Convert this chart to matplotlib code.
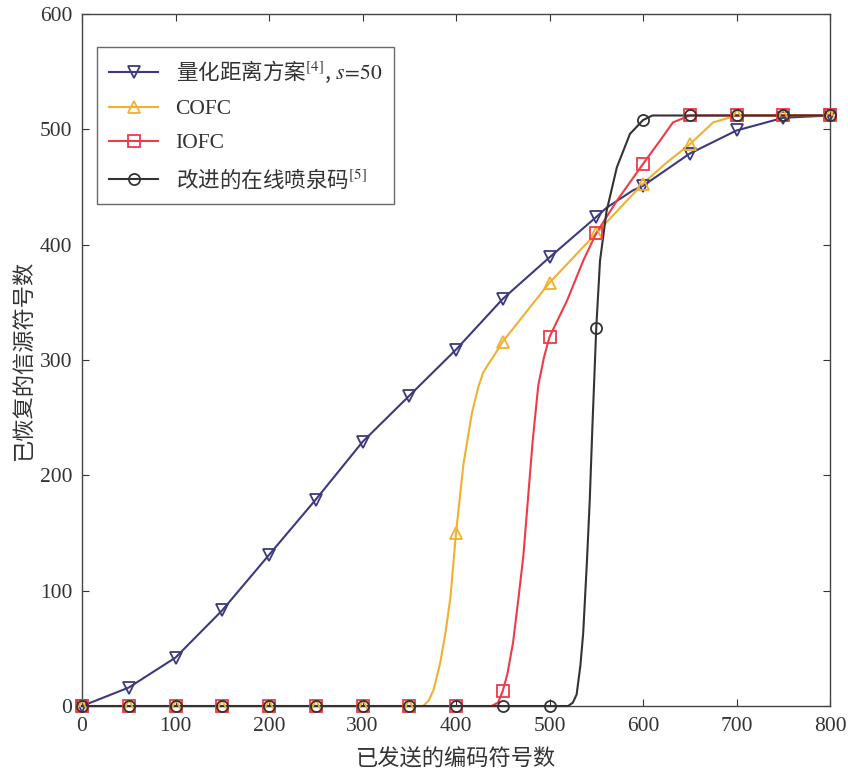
import matplotlib.pyplot as plt
from matplotlib.lines import Line2D

plt.rcParams['mathtext.fontset'] = 'stix'

# marker positions: every 50 coded symbols
x_mark = [0, 50, 100, 150, 200, 250, 300, 350, 400, 450, 500, 550, 600, 650, 700, 750, 800]

quant_mark = [0, 16, 42, 83, 131, 179, 229, 269, 309, 353, 389, 424, 451, 479, 499, 510, 512]
cofc_mark = [0, 0, 0, 0, 0, 0, 0, 0, 150, 316, 367, 410, 453, 487, 512, 512, 512]
iofc_mark = [0, 0, 0, 0, 0, 0, 0, 0, 0, 13, 320, 410, 470, 512, 512, 512, 512]
ifc_mark = [0, 0, 0, 0, 0, 0, 0, 0, 0, 0, 0, 328, 508, 512, 512, 512, 512]

# finer curve samples
quant_x = [0, 50, 100, 150, 200, 250, 300, 350, 400, 450, 500, 550, 561, 589, 600, 650, 700, 750, 800]
quant_y = [0, 16, 42, 83, 131, 179, 229, 269, 309, 353, 389, 424, 432, 447, 451, 479, 499, 510, 512]

cofc_x = [0, 350, 365, 371, 376, 383, 389, 394, 400, 408, 417, 424, 429, 435, 440, 450, 500, 550, 600, 625, 650, 675, 700, 800]
cofc_y = [0, 0, 0, 5, 14, 37, 65, 94, 150, 210, 254, 277, 289, 297, 303, 316, 367, 410, 453, 471, 487, 506, 512, 512]

iofc_x = [0, 438, 445, 450, 455, 461, 467, 472, 477, 482, 488, 494, 500, 519, 536, 550, 572, 600, 618, 632, 650, 800]
iofc_y = [0, 0, 3, 13, 28, 55, 95, 130, 180, 230, 278, 302, 320, 352, 386, 410, 438, 470, 490, 506, 512, 512]

ifc_x = [0, 520, 525, 529, 533, 536, 540, 543, 546, 550, 554, 561, 572, 586, 600, 610, 800]
ifc_y = [0, 0, 3, 10, 35, 63, 125, 178, 245, 328, 386, 429, 467, 496, 508, 512, 512]

labels = ['量化距离方案$^{[4]}$,$\\ s\\!=\\!50$', 'COFC', 'IOFC', '改进的在线喷泉码$^{[5]}$']
colors = ['#3c3a7c', '#f0b030', '#ee3b46', '#333333']
markers = ['v', '^', 's', 'o']

fig = plt.figure(figsize=(8.48, 7.69), dpi=100)
ax = fig.add_axes([0.0967, 0.0819, 0.8821, 0.8999])

curves = [(quant_x, quant_y, quant_mark), (cofc_x, cofc_y, cofc_mark),
          (iofc_x, iofc_y, iofc_mark), (ifc_x, ifc_y, ifc_mark)]
handles = []
for (cx, cy, my), c, m, lab in zip(curves, colors, markers, labels):
    ax.plot(cx, cy, color=c, lw=1.5, clip_on=False, zorder=3)
    ax.plot(x_mark, my, ls='none', marker=m, ms=8, mfc='none', mec=c, mew=1.3,
            clip_on=False, zorder=4)
    handles.append(Line2D([], [], color=c, lw=1.5, marker=m, ms=8, mfc='none',
                          mec=c, mew=1.3, label=lab))

ax.set_xlim(0, 800)
ax.set_ylim(0, 600)
ax.set_xticks(range(0, 801, 100))
ax.set_yticks(range(0, 601, 100))
ax.tick_params(direction='in', top=True, right=True, length=5, width=0.8,
               colors='#333333', labelsize=15.5)
ax.tick_params(axis='x', pad=8)
ax.tick_params(axis='y', pad=7)
for lbl in ax.get_xticklabels() + ax.get_yticklabels():
    lbl.set_family('Liberation Serif')
for sp in ax.spines.values():
    sp.set_color('#444444')
    sp.set_linewidth(1.0)

ax.set_xlabel('已发送的编码符号数', family=['Noto Sans CJK SC'], fontsize=16,
              color='#333333', labelpad=8)
ax.set_ylabel('已恢复的信源符号数', family=['Noto Sans CJK SC'], fontsize=16,
              color='#333333', labelpad=4)

leg = ax.legend(handles=handles, loc='upper left', bbox_to_anchor=(0.02, 0.952),
                borderaxespad=0, fancybox=False, edgecolor='#444444',
                handlelength=2.3, labelspacing=0.65, borderpad=0.55,
                prop={'family': 'Liberation Serif', 'size': 15.5})
leg.get_frame().set_linewidth(1.0)
# Chinese entries need the CJK family
for t in leg.get_texts():
    t.set_color('#333333')
    if any(ord(ch) > 0x2e80 for ch in t.get_text()):
        t.set_family('Noto Sans CJK SC')

fig.savefig('out.png', dpi=100)
